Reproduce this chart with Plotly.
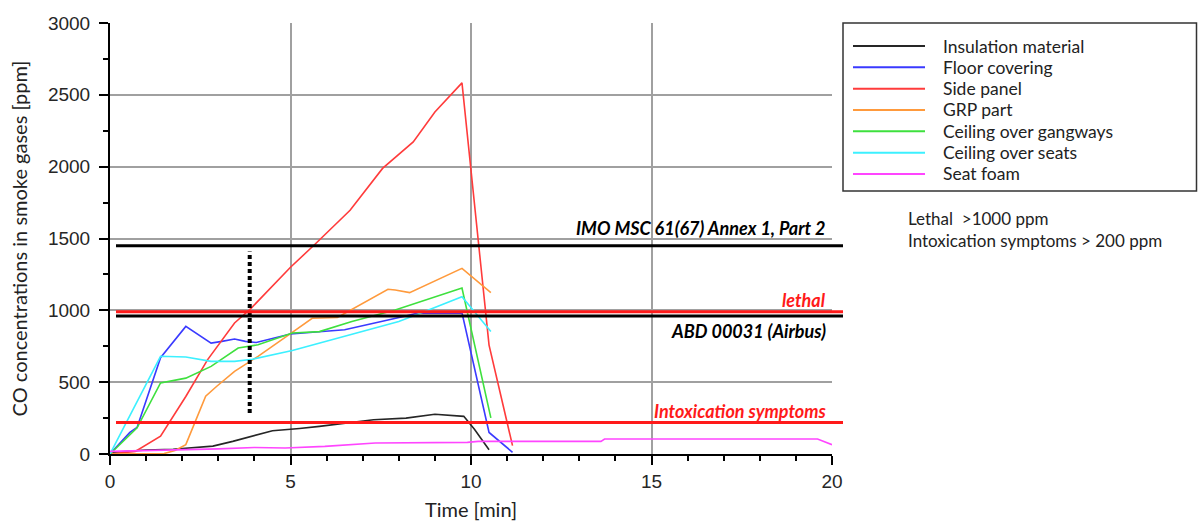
import plotly.graph_objects as go

# ---------------- data ----------------
series_names = ["Insulation material", "Floor covering", "Side panel", "GRP part",
                "Ceiling over gangways", "Ceiling over seats", "Seat foam"]
series_colors = ["#262626", "#3a3aff", "#ff3b3b", "#ff9a3c", "#3ee03e", "#3cf0ff", "#ff45ff"]

t_insulation = [0, 1.0, 1.75, 2.85, 3.4, 3.9, 4.5, 5.25, 5.8, 7.3, 8.2, 9.0, 9.5, 9.8, 10.1, 10.5]
v_insulation = [10, 28, 33, 55, 88, 124, 162, 178, 192, 238, 250, 277, 268, 262, 170, 30]

t_floor = [0, 0.55, 0.75, 1.4, 2.1, 2.8, 3.1, 3.45, 3.75, 4.05, 5.0, 5.8, 6.5, 8.1, 8.5, 9.75, 10.5, 11.15]
v_floor = [0, 150, 185, 670, 888, 772, 784, 800, 784, 776, 835, 852, 865, 955, 980, 982, 150, 12]

t_side = [0, 0.7, 1.4, 2.1, 2.7, 3.45, 3.9, 5.0, 5.7, 6.65, 7.55, 8.4, 9.0, 9.75, 10.5, 11.15]
v_side = [0, 18, 124, 400, 655, 912, 1012, 1300, 1465, 1697, 1988, 2172, 2380, 2583, 758, 58]

t_grp = [0, 1.5, 1.8, 2.1, 2.65, 2.95, 3.45, 4.1, 5.0, 5.6, 6.3, 7.7, 7.9, 8.3, 9.75, 10.55]
v_grp = [0, 3, 25, 65, 402, 470, 575, 680, 838, 945, 950, 1147, 1142, 1123, 1292, 1123]

t_gangway = [0, 0.75, 1.4, 2.1, 2.8, 3.55, 4.1, 5.05, 5.8, 6.7, 7.9, 9.75, 10.55]
v_gangway = [0, 182, 495, 528, 610, 738, 760, 842, 852, 922, 1003, 1155, 252]

t_seats = [0, 1.05, 1.4, 2.1, 2.8, 3.45, 3.95, 5.05, 8.0, 8.7, 9.75, 10.55]
v_seats = [0, 518, 680, 675, 645, 645, 660, 720, 922, 990, 1095, 852]

t_foam = [0, 2.0, 3.0, 4.0, 4.85, 5.95, 7.35, 9.9, 10.2, 13.6, 13.7, 19.6, 20.0]
v_foam = [18, 28, 36, 45, 42, 53, 77, 81, 88, 88, 104, 104, 65]

times = [t_insulation, t_floor, t_side, t_grp, t_gangway, t_seats, t_foam]
values = [v_insulation, v_floor, v_side, v_grp, v_gangway, v_seats, v_foam]

# reference levels (ppm)
level_names = ["IMO MSC 61(67) Annex 1, Part 2", "lethal", "ABD 00031 (Airbus)", "Intoxication symptoms"]
level_values = [1450, 990, 960, 220]
level_colors = ["black", "#ff1a1a", "black", "#ff1a1a"]
level_label_shift = [18, 12, -15, 11]

marker_time = 3.87
marker_range = [285, 1410]

side_notes = ["Lethal  >1000 ppm", "Intoxication symptoms > 200 ppm"]

x_ticks = [0, 5, 10, 15, 20]
y_ticks = [0, 500, 1000, 1500, 2000, 2500, 3000]

# ---------------- figure ----------------
W, H = 1198, 524
L, R, T, B = 110, 366, 23, 70
pw, ph = W - L - R, H - T - B


def px(xp):
    return (xp - L) / pw


def py(yp):
    return (H - B - yp) / ph


fig = go.Figure()
for name, col, tt, vv in zip(series_names, series_colors, times, values):
    fig.add_trace(go.Scatter(x=tt, y=vv, mode="lines", name=name,
                             line=dict(color=col, width=1.6), showlegend=False))

# dotted vertical marker
fig.add_trace(go.Scatter(x=[marker_time, marker_time], y=marker_range, mode="lines",
                         line=dict(color="black", width=4, dash="4px,3px"),
                         showlegend=False, hoverinfo="skip"))

shapes = []
annotations = []
for name, val, col, sh in zip(level_names, level_values, level_colors, level_label_shift):
    shapes.append(dict(type="line", xref="paper", yref="y", x0=px(116), x1=px(843),
                       y0=val, y1=val, line=dict(color=col, width=3), layer="above"))
    annotations.append(dict(xref="paper", yref="y", x=px(828), y=val, yshift=sh,
                            xanchor="right", yanchor="middle", showarrow=False,
                            text="<b><i>%s</i></b>" % name,
                            font=dict(family="Lato", size=18, color=col)))

# custom legend box
shapes.append(dict(type="rect", xref="paper", yref="paper", x0=px(843), x1=px(1196.5),
                   y0=py(191), y1=py(23), line=dict(color="#333333", width=1.5),
                   fillcolor="rgba(0,0,0,0)"))
row0, step = 46.0, 21.33
for i, (name, col) in enumerate(zip(series_names, series_colors)):
    yy = row0 + i * step
    shapes.append(dict(type="line", xref="paper", yref="paper", x0=px(853), x1=px(925),
                       y0=py(yy), y1=py(yy), line=dict(color=col, width=2)))
    annotations.append(dict(xref="paper", yref="paper", x=px(941), y=py(yy),
                            xanchor="left", yanchor="middle", showarrow=False, text=name,
                            font=dict(family="Lato", size=17.5, color="#222222")))

for i, note in enumerate(side_notes):
    annotations.append(dict(xref="paper", yref="paper", x=px(906), y=py(218 + i * 22.5),
                            xanchor="left", yanchor="middle", showarrow=False, text=note,
                            font=dict(family="Lato", size=17, color="#222222")))

fig.update_layout(
    width=W, height=H,
    margin=dict(l=L, r=R, t=T, b=B),
    paper_bgcolor="white", plot_bgcolor="white",
    shapes=shapes, annotations=annotations,
    showlegend=False,
)
fig.update_xaxes(
    range=[0, 20], tickvals=x_ticks, ticktext=[str(v) for v in x_ticks],
    automargin=False,
    showline=True, linecolor="black", linewidth=2,
    ticks="outside", ticklen=9, tickwidth=1.5, tickcolor="black",
    showgrid=True, gridcolor="#a0a0a0", gridwidth=2, zeroline=False,
    minor=dict(dtick=1, ticks="outside", ticklen=5, tickwidth=1.5, tickcolor="black", showgrid=False),
    tickfont=dict(family="Liberation Sans", size=19, color="#262626"),
    title=dict(text="Time [min]", font=dict(family="Lato", size=20, color="#222222"), standoff=12),
)
fig.update_yaxes(
    range=[0, 3000], tickvals=y_ticks, ticktext=[str(v) for v in y_ticks],
    automargin=False, ticklabelstandoff=5,
    showline=True, linecolor="black", linewidth=2,
    ticks="outside", ticklen=9, tickwidth=1.5, tickcolor="black",
    showgrid=True, gridcolor="#a0a0a0", gridwidth=2, zeroline=False,
    minor=dict(dtick=250, ticks="outside", ticklen=5, tickwidth=1.5, tickcolor="black", showgrid=False),
    tickfont=dict(family="Liberation Sans", size=19, color="#262626"),
    title=dict(text="CO concentrations in smoke gases [ppm]",
               font=dict(family="Lato", size=20, color="#222222"), standoff=15),
)

fig.write_html("out.html")
